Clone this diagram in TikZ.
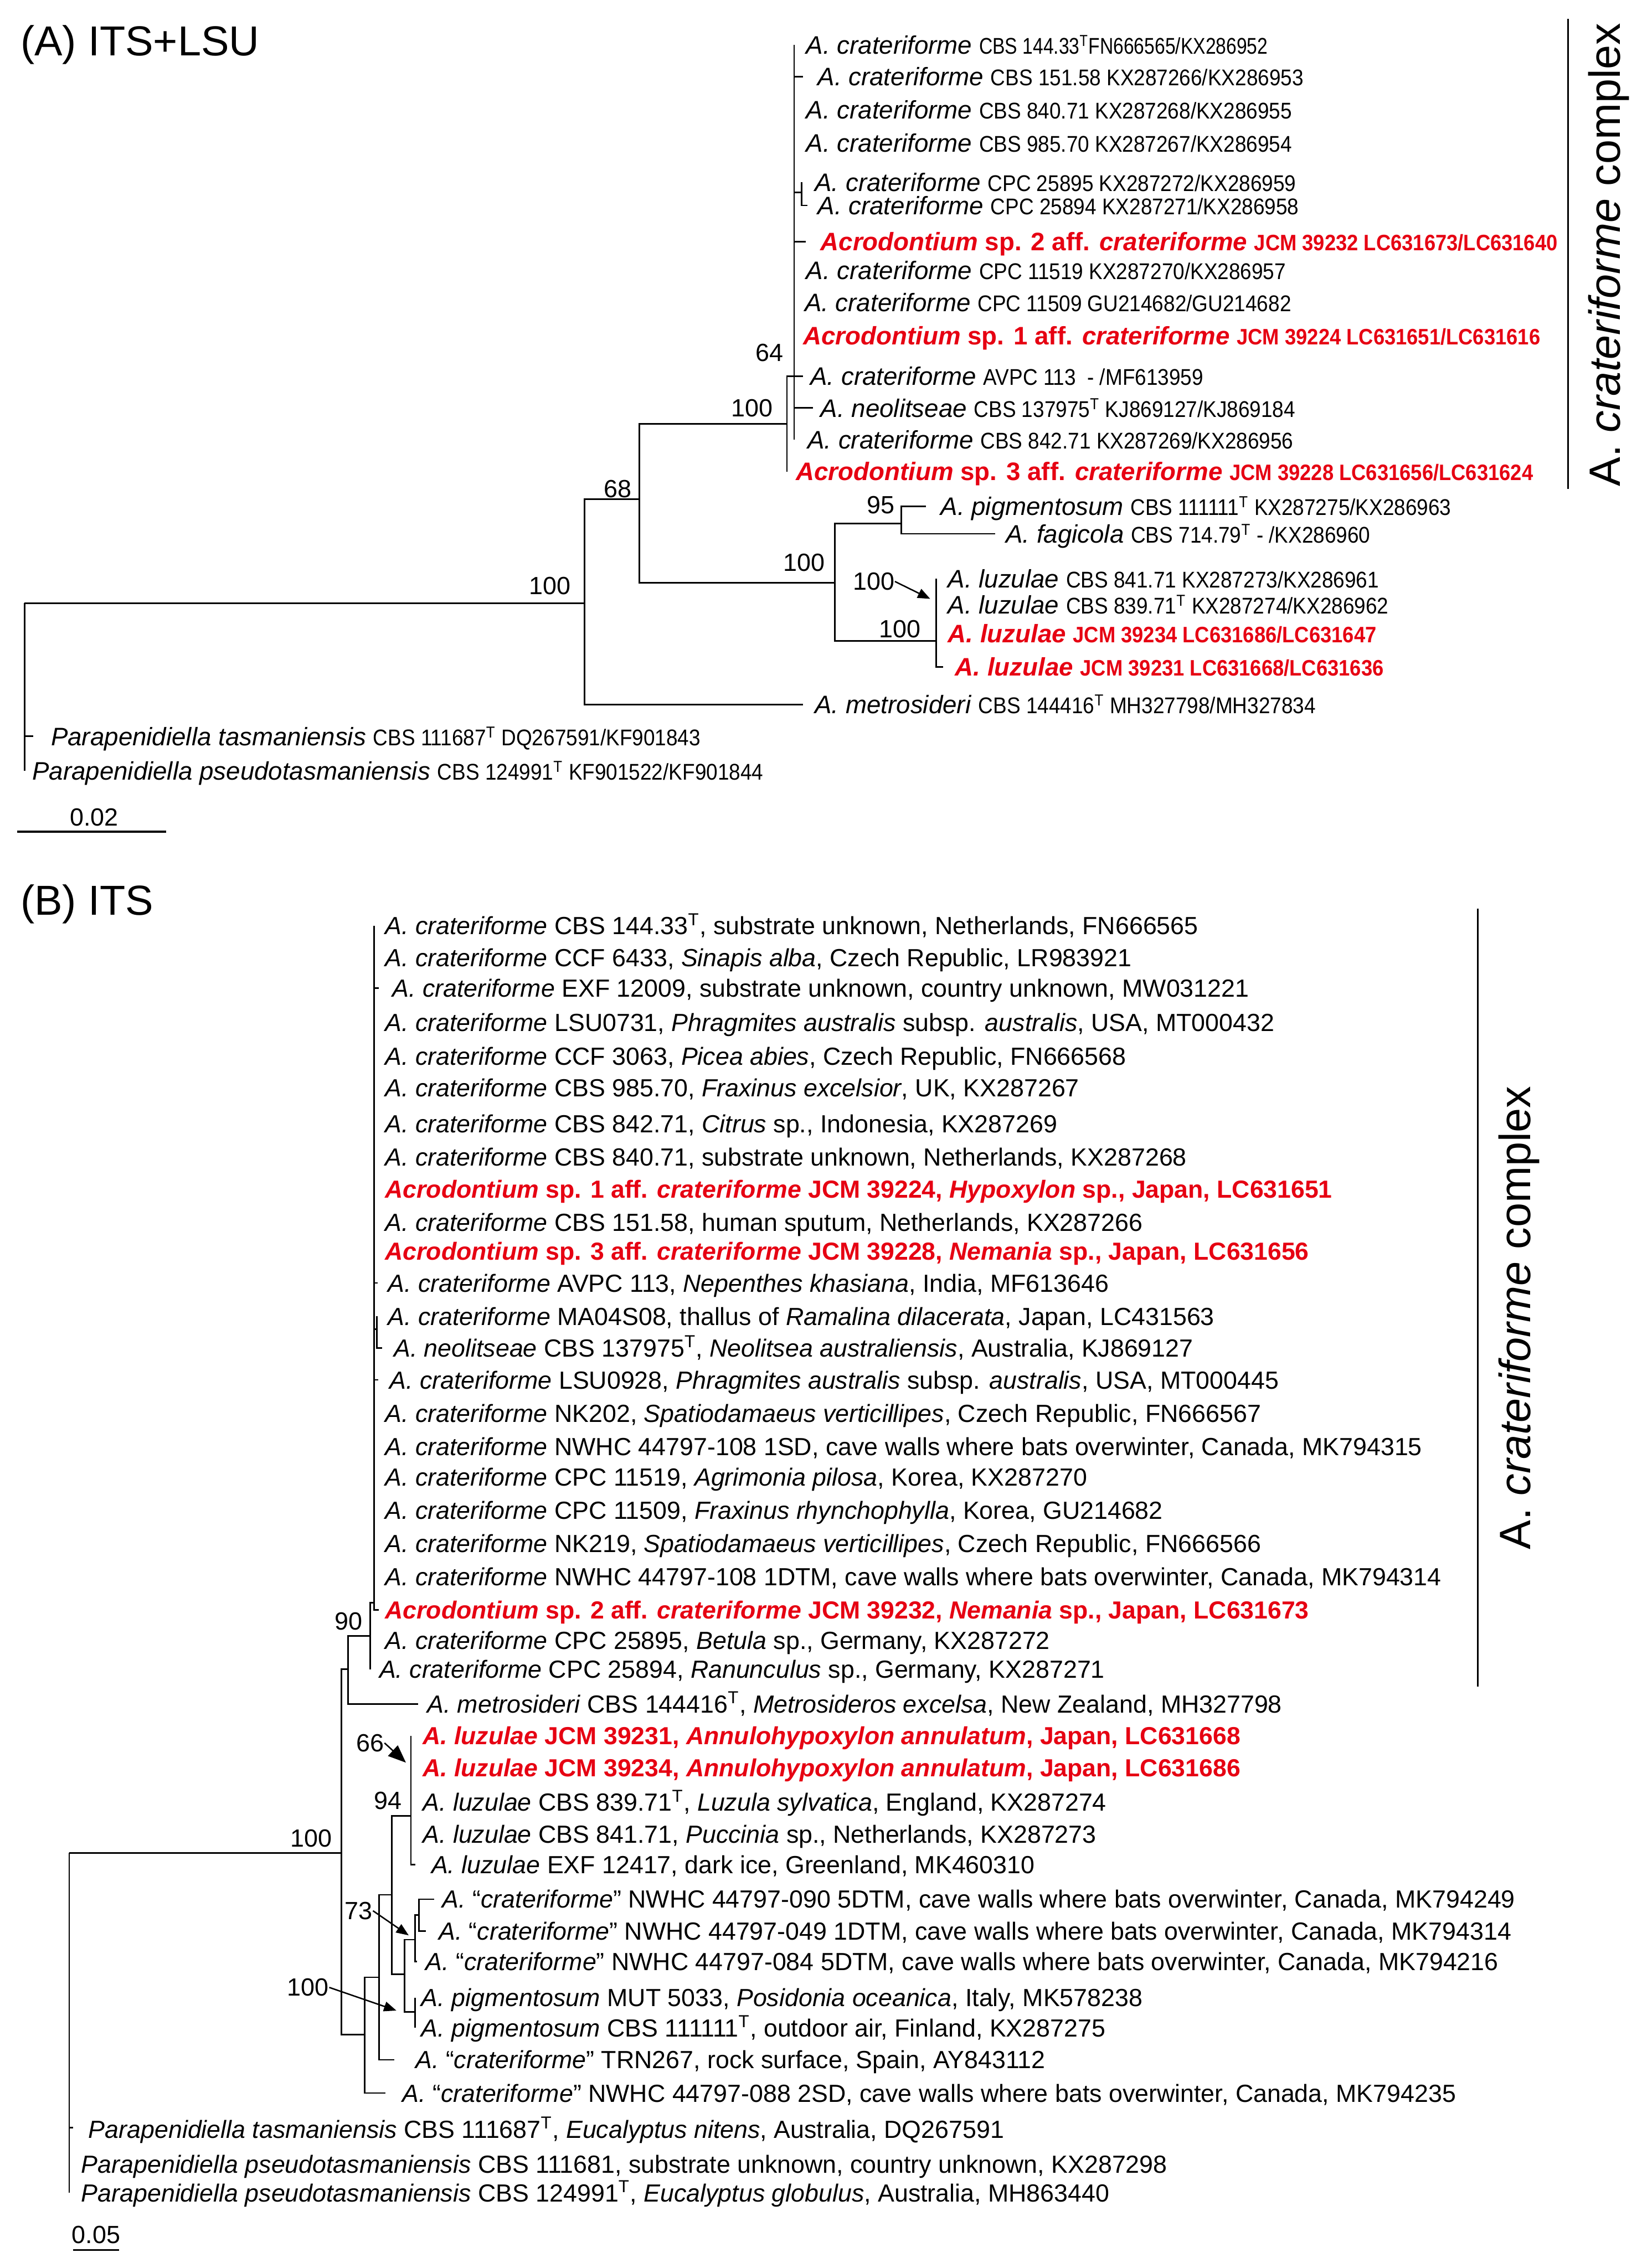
\documentclass[tikz,border=0pt]{standalone}
\usepackage{fontspec}
\setmainfont{Liberation Sans}
\newfontfamily\narrowsf{Liberation Sans}[FakeStretch=0.82]
\newfontfamily\semisf{Liberation Sans}[FakeStretch=0.9]
\usepackage{tikz}
\usetikzlibrary{arrows.meta}
\definecolor{isolatered}{RGB}{230, 0, 18}

\newcommand{\crat}{\textit{A. crateriforme}}
\newcommand{\qcrat}{\textit{A.} “\textit{crateriforme}”}
\newcommand{\strainAn}[1]{{\narrowsf\fontsize{12.8}{15}\selectfont #1}}
\newcommand{\strainA}[1]{{\semisf\fontsize{12.8}{15}\selectfont #1}}
\newcommand{\strainAb}[1]{{\semisf\bfseries\fontsize{12.6}{15}\selectfont #1}}
\newcommand{\typeT}{\textsuperscript{T}}

\begin{document}
\begin{tikzpicture}[
    x=0.02862cm, y=-0.02862cm,
    branch/.style={line width=0.85pt},
    tipA/.style={anchor=west, inner sep=0pt, text height=10.2pt, text depth=0pt,
                 font=\fontsize{14.25}{17}\selectfont},
    newA/.style={tipA, text=isolatered, font=\bfseries\fontsize{14.25}{17}\selectfont},
    tipB/.style={anchor=west, inner sep=0pt, text height=10pt, text depth=0pt,
                 font=\fontsize{13.95}{17}\selectfont},
    newB/.style={tipB, text=isolatered, font=\bfseries\fontsize{13.9}{17}\selectfont},
    boot/.style={inner sep=0pt, font=\fontsize{14}{17}\selectfont},
    pointer/.style={line width=0.8pt, -{Triangle[length=7pt, width=5.5pt]}},
    bigpointer/.style={line width=0.8pt, -{Triangle[length=10pt, width=8pt]}},
    panel/.style={anchor=west, inner sep=0pt, font=\fontsize{23.6}{28}\selectfont},
    clade/.style={rotate=90, inner sep=0pt, font=\fontsize{24.7}{28}\selectfont},
    cladebar/.style={line width=1.1pt},
    scalebar/.style={line width=1.1pt}
]
\useasboundingbox (0,0) rectangle (1135,1568);

%% ── (A) ITS+LSU ────────────────────────────────────────────────
\node[panel] (titleA) at (14,31) {(A) ITS+LSU};

%% internal nodes
\coordinate (aRoot)   at (17,  417);
\coordinate (aN100)   at (404, 417);
\coordinate (aN68)    at (442, 345);
\coordinate (aN100c)  at (544, 293);
\coordinate (aN64)    at (549, 260);
\coordinate (aCPC)    at (554, 133);
\coordinate (aN100l)  at (577, 403);
\coordinate (aN95)    at (623, 362);
\coordinate (aN100z)  at (647, 443);

%% tips
\coordinate (a1)  at (549, 31);  \node[tipA] (la1)  at (557, 31)  {\crat\ \strainAn{CBS 144.33\typeT FN666565/KX286952}};
\coordinate (a2)  at (555, 53);  \node[tipA] (la2)  at (565, 53)  {\crat\ \strainA{CBS 151.58 KX287266/KX286953}};
\coordinate (a3)  at (549, 76);  \node[tipA] (la3)  at (557, 76)  {\crat\ \strainA{CBS 840.71 KX287268/KX286955}};
\coordinate (a4)  at (549, 99);  \node[tipA] (la4)  at (557, 99)  {\crat\ \strainA{CBS 985.70 KX287267/KX286954}};
\coordinate (a5)  at (554, 126); \node[tipA] (la5)  at (563, 126) {\crat\ \strainA{CPC 25895 KX287272/KX286959}};
\coordinate (a6)  at (558, 142); \node[tipA] (la6)  at (565, 142) {\crat\ \strainA{CPC 25894 KX287271/KX286958}};
\coordinate (a7)  at (557, 167); \node[newA] (la7)  at (567, 167) {\textit{Acrodontium} sp. 2 aff. \textit{crateriforme} \strainAb{JCM 39232 LC631673/LC631640}};
\coordinate (a8)  at (549, 187); \node[tipA] (la8)  at (557, 187) {\crat\ \strainA{CPC 11519 KX287270/KX286957}};
\coordinate (a9)  at (549, 209); \node[tipA] (la9)  at (556, 209) {\crat\ \strainA{CPC 11509 GU214682/GU214682}};
\coordinate (a10) at (549, 232); \node[newA] (la10) at (555, 232) {\textit{Acrodontium} sp. 1 aff. \textit{crateriforme} \strainAb{JCM 39224 LC631651/LC631616}};
\coordinate (a11) at (555, 260); \node[tipA] (la11) at (560, 260) {\crat\ \strainA{AVPC 113 \ - /MF613959}};
\coordinate (a12) at (562, 282); \node[tipA] (la12) at (567, 282) {\textit{A. neolitseae} \strainA{CBS 137975\typeT\ KJ869127/KJ869184}};
\coordinate (a13) at (549, 304); \node[tipA] (la13) at (558, 304) {\crat\ \strainA{CBS 842.71 KX287269/KX286956}};
\coordinate (a14) at (544, 326); \node[newA] (la14) at (550, 326) {\textit{Acrodontium} sp. 3 aff. \textit{crateriforme} \strainAb{JCM 39228 LC631656/LC631624}};
\coordinate (a15) at (640, 350); \node[tipA] (la15) at (650, 350) {\textit{A. pigmentosum} \strainA{CBS 111111\typeT\ KX287275/KX286963}};
\coordinate (a16) at (688, 369); \node[tipA] (la16) at (695, 369) {\textit{A. fagicola} \strainA{CBS 714.79\typeT\ - /KX286960}};
\coordinate (a17) at (647, 400); \node[tipA] (la17) at (655, 400) {\textit{A. luzulae} \strainA{CBS 841.71 KX287273/KX286961}};
\coordinate (a18) at (647, 418); \node[tipA] (la18) at (655, 418) {\textit{A. luzulae} \strainA{CBS 839.71\typeT\ KX287274/KX286962}};
\coordinate (a19) at (647, 438); \node[newA] (la19) at (655, 438) {\textit{A. luzulae} \strainAb{JCM 39234 LC631686/LC631647}};
\coordinate (a20) at (652, 461); \node[newA] (la20) at (660, 461) {\textit{A. luzulae} \strainAb{JCM 39231 LC631668/LC631636}};
\coordinate (a21) at (555, 487); \node[tipA] (la21) at (563, 487) {\textit{A. metrosideri} \strainA{CBS 144416\typeT\ MH327798/MH327834}};
\coordinate (a22) at (23, 509);  \node[tipA] (la22) at (35, 509)  {\textit{Parapenidiella tasmaniensis} \strainA{CBS 111687\typeT\ DQ267591/KF901843}};
\coordinate (a23) at (17, 533);  \node[tipA] (la23) at (22, 533)  {\textit{Parapenidiella pseudotasmaniensis} \strainA{CBS 124991\typeT\ KF901522/KF901844}};

%% branches
\draw[branch] (aRoot) |- (aN100)  (aRoot) |- (a22)  (aRoot) |- (a23);
\draw[branch] (aN100) |- (aN68)   (aN100) |- (a21);
\draw[branch] (aN68) |- (aN100c)  (aN68) |- (aN100l);
\draw[branch] (aN100c) |- (aN64)  (aN100c) |- (a14);
\draw[branch] (aN64) |- (a1)  (aN64) |- (a2)  (aN64) |- (a3)  (aN64) |- (a4)
              (aN64) |- (aCPC)  (aN64) |- (a7)  (aN64) |- (a8)  (aN64) |- (a9)
              (aN64) |- (a10)  (aN64) |- (a11)  (aN64) |- (a12)  (aN64) |- (a13);
\draw[branch] (aCPC) |- (a5)  (aCPC) |- (a6);
\draw[branch] (aN100l) |- (aN95)  (aN100l) |- (aN100z);
\draw[branch] (aN95) |- (a15)  (aN95) |- (a16);
\draw[branch] (aN100z) |- (a17)  (aN100z) |- (a18)  (aN100z) |- (a19)  (aN100z) |- (a20);

%% support values
\node[boot] (sA64)   at (532, 244) {64};
\node[boot] (sA100c) at (520, 282) {100};
\node[boot] (sA68)   at (427, 338) {68};
\node[boot] (sA100)  at (380, 405) {100};
\node[boot] (sA95)   at (609, 349) {95};
\node[boot] (sA100l) at (556, 389) {100};
\node[boot] (sA100p) at (604, 402) {100};
\node[boot] (sA100z) at (622, 435) {100};
\coordinate (aPtr) at (643, 414);
\draw[pointer] (sA100p.east) -- (aPtr);

%% clade bar and scale
\coordinate (cbA1) at (1084, 13);
\coordinate (cbA2) at (1084, 338);
\draw[cladebar] (cbA1) -- (cbA2);
\node[clade] (cladeA) at (1112, 176) {A. \textit{crateriforme} complex};
\coordinate (sbA1) at (12, 575);
\coordinate (sbA2) at (115, 575);
\draw[scalebar] (sbA1) -- (sbA2);
\node[boot] (sbAlab) at (65, 565) {0.02};

%% ── (B) ITS ────────────────────────────────────────────────────
\node[panel] (titleB) at (14,625) {(B) ITS};

%% internal nodes
\coordinate (bRoot)  at (47.8,  1281);
\coordinate (bN100)  at (236.1, 1281);
\coordinate (bNa)    at (240.5, 1154);
\coordinate (bN90)   at (256,   1131);
\coordinate (bNcr)   at (258.5, 1108);
\coordinate (bNmn)   at (260.5, 919);
\coordinate (bNp)    at (252,   1406.5);
\coordinate (bNq)    at (262,   1367);
\coordinate (bNr)    at (270.9, 1310);
\coordinate (bN94)   at (284,   1255.5);
\coordinate (bNs)    at (279.6, 1365);
\coordinate (bN73)   at (286.8, 1341);
\coordinate (bNw)    at (289.7, 1324);
\coordinate (bNpig)  at (286.8, 1391);

%% tips
\coordinate (b1)  at (258.5, 640);  \node[tipB] (lb1)  at (266, 640)  {\crat\ CBS 144.33\typeT, substrate unknown, Netherlands, FN666565};
\coordinate (b2)  at (258.5, 662);  \node[tipB] (lb2)  at (266, 662)  {\crat\ CCF 6433, \textit{Sinapis alba}, Czech Republic, LR983921};
\coordinate (b3)  at (262, 683);    \node[tipB] (lb3)  at (271, 683)  {\crat\ EXF 12009, substrate unknown, country unknown, MW031221};
\coordinate (b4)  at (258.5, 707);  \node[tipB] (lb4)  at (266, 707)  {\crat\ LSU0731, \textit{Phragmites australis} subsp. \textit{australis}, USA, MT000432};
\coordinate (b5)  at (258.5, 730);  \node[tipB] (lb5)  at (266, 730)  {\crat\ CCF 3063, \textit{Picea abies}, Czech Republic, FN666568};
\coordinate (b6)  at (258.5, 752);  \node[tipB] (lb6)  at (266, 752)  {\crat\ CBS 985.70, \textit{Fraxinus excelsior}, UK, KX287267};
\coordinate (b7)  at (258.5, 777);  \node[tipB] (lb7)  at (266, 777)  {\crat\ CBS 842.71, \textit{Citrus} sp., Indonesia, KX287269};
\coordinate (b8)  at (258.5, 800);  \node[tipB] (lb8)  at (266, 800)  {\crat\ CBS 840.71, substrate unknown, Netherlands, KX287268};
\coordinate (b9)  at (258.5, 822);  \node[newB] (lb9)  at (266, 822)  {\textit{Acrodontium} sp. 1 aff. \textit{crateriforme} JCM 39224, \textit{Hypoxylon} sp., Japan, LC631651};
\coordinate (b10) at (258.5, 845);  \node[tipB] (lb10) at (266, 845)  {\crat\ CBS 151.58, human sputum, Netherlands, KX287266};
\coordinate (b11) at (258.5, 865);  \node[newB] (lb11) at (266, 865)  {\textit{Acrodontium} sp. 3 aff. \textit{crateriforme} JCM 39228, \textit{Nemania} sp., Japan, LC631656};
\coordinate (b12) at (261, 887);    \node[tipB] (lb12) at (268, 887)  {\crat\ AVPC 113, \textit{Nepenthes khasiana}, India, MF613646};
\coordinate (b13) at (260.5, 910);  \node[tipB] (lb13) at (268, 910)  {\crat\ MA04S08, thallus of \textit{Ramalina dilacerata}, Japan, LC431563};
\coordinate (b14) at (264, 932);    \node[tipB] (lb14) at (272, 932)  {\textit{A. neolitseae} CBS 137975\typeT, \textit{Neolitsea australiensis}, Australia, KJ869127};
\coordinate (b15) at (261.5, 954);  \node[tipB] (lb15) at (269, 954)  {\crat\ LSU0928, \textit{Phragmites australis} subsp. \textit{australis}, USA, MT000445};
\coordinate (b16) at (258.5, 977);  \node[tipB] (lb16) at (266, 977)  {\crat\ NK202, \textit{Spatiodamaeus verticillipes}, Czech Republic, FN666567};
\coordinate (b17) at (258.5, 1000); \node[tipB] (lb17) at (266, 1000) {\crat\ NWHC 44797-108 1SD, cave walls where bats overwinter, Canada, MK794315};
\coordinate (b18) at (258.5, 1021); \node[tipB] (lb18) at (266, 1021) {\crat\ CPC 11519, \textit{Agrimonia pilosa}, Korea, KX287270};
\coordinate (b19) at (258.5, 1044); \node[tipB] (lb19) at (266, 1044) {\crat\ CPC 11509, \textit{Fraxinus rhynchophylla}, Korea, GU214682};
\coordinate (b20) at (258.5, 1067); \node[tipB] (lb20) at (266, 1067) {\crat\ NK219, \textit{Spatiodamaeus verticillipes}, Czech Republic, FN666566};
\coordinate (b21) at (258.5, 1090); \node[tipB] (lb21) at (266, 1090) {\crat\ NWHC 44797-108 1DTM, cave walls where bats overwinter, Canada, MK794314};
\coordinate (b22) at (262, 1113);   \node[newB] (lb22) at (266, 1113) {\textit{Acrodontium} sp. 2 aff. \textit{crateriforme} JCM 39232, \textit{Nemania} sp., Japan, LC631673};
\coordinate (b23) at (256, 1134);   \node[tipB] (lb23) at (266, 1134) {\crat\ CPC 25895, \textit{Betula} sp., Germany, KX287272};
\coordinate (b24) at (256, 1154);   \node[tipB] (lb24) at (262, 1154) {\crat\ CPC 25894, \textit{Ranunculus} sp., Germany, KX287271};
\coordinate (b25) at (289, 1178);   \node[tipB] (lb25) at (295, 1178) {\textit{A. metrosideri} CBS 144416\typeT, \textit{Metrosideros excelsa}, New Zealand, MH327798};
\coordinate (b26) at (284, 1200);   \node[newB] (lb26) at (292, 1200) {\textit{A. luzulae} JCM 39231, \textit{Annulohypoxylon annulatum}, Japan, LC631668};
\coordinate (b27) at (284, 1222);   \node[newB] (lb27) at (292, 1222) {\textit{A. luzulae} JCM 39234, \textit{Annulohypoxylon annulatum}, Japan, LC631686};
\coordinate (b28) at (284, 1246);   \node[tipB] (lb28) at (292, 1246) {\textit{A. luzulae} CBS 839.71\typeT, \textit{Luzula sylvatica}, England, KX287274};
\coordinate (b29) at (284, 1268);   \node[tipB] (lb29) at (292, 1268) {\textit{A. luzulae} CBS 841.71, \textit{Puccinia} sp., Netherlands, KX287273};
\coordinate (b30) at (287, 1289);   \node[tipB] (lb30) at (298, 1289) {\textit{A. luzulae} EXF 12417, dark ice, Greenland, MK460310};
\coordinate (b31) at (300, 1313);   \node[tipB] (lb31) at (305.6, 1313) {\qcrat\ NWHC 44797-090 5DTM, cave walls where bats overwinter, Canada, MK794249};
\coordinate (b32) at (294.5, 1335); \node[tipB] (lb32) at (303, 1335) {\qcrat\ NWHC 44797-049 1DTM, cave walls where bats overwinter, Canada, MK794314};
\coordinate (b33) at (288.2, 1356); \node[tipB] (lb33) at (294, 1356) {\qcrat\ NWHC 44797-084 5DTM, cave walls where bats overwinter, Canada, MK794216};
\coordinate (b34) at (286.8, 1381); \node[tipB] (lb34) at (291, 1381) {\textit{A. pigmentosum} MUT 5033, \textit{Posidonia oceanica}, Italy, MK578238};
\coordinate (b35) at (286.8, 1402); \node[tipB] (lb35) at (291, 1402) {\textit{A. pigmentosum} CBS 111111\typeT, outdoor air, Finland, KX287275};
\coordinate (b36) at (272.4, 1424); \node[tipB] (lb36) at (287, 1424) {\qcrat\ TRN267, rock surface, Spain, AY843112};
\coordinate (b37) at (266.6, 1447); \node[tipB] (lb37) at (278, 1447) {\qcrat\ NWHC 44797-088 2SD, cave walls where bats overwinter, Canada, MK794235};
\coordinate (b38) at (50.5, 1471);  \node[tipB] (lb38) at (61, 1472)  {\textit{Parapenidiella tasmaniensis} CBS 111687\typeT, \textit{Eucalyptus nitens}, Australia, DQ267591};
\coordinate (b39) at (47.8, 1496);  \node[tipB] (lb39) at (56, 1496)  {\textit{Parapenidiella pseudotasmaniensis} CBS 111681, substrate unknown, country unknown, KX287298};
\coordinate (b40) at (47.8, 1516);  \node[tipB] (lb40) at (56, 1516)  {\textit{Parapenidiella pseudotasmaniensis} CBS 124991\typeT, \textit{Eucalyptus globulus}, Australia, MH863440};

%% branches
\draw[branch] (bRoot) |- (bN100)  (bRoot) |- (b38)  (bRoot) |- (b39)  (bRoot) |- (b40);
\draw[branch] (bN100) |- (bNa)  (bN100) |- (bNp);
\draw[branch] (bNa) |- (bN90)  (bNa) |- (b25);
\draw[branch] (bN90) |- (bNcr)  (bN90) |- (b23)  (bN90) |- (b24);
\draw[branch] (bNcr) |- (b1)  (bNcr) |- (b2)  (bNcr) |- (b3)  (bNcr) |- (b4)
              (bNcr) |- (b5)  (bNcr) |- (b6)  (bNcr) |- (b7)  (bNcr) |- (b8)
              (bNcr) |- (b9)  (bNcr) |- (b10) (bNcr) |- (b11) (bNcr) |- (b12)
              (bNcr) |- (bNmn) (bNcr) |- (b15) (bNcr) |- (b16) (bNcr) |- (b17)
              (bNcr) |- (b18) (bNcr) |- (b19) (bNcr) |- (b20) (bNcr) |- (b21)
              (bNcr) |- (b22);
\draw[branch] (bNmn) |- (b13)  (bNmn) |- (b14);
\draw[branch] (bNp) |- (bNq)  (bNp) |- (b37);
\draw[branch] (bNq) |- (bNr)  (bNq) |- (b36);
\draw[branch] (bNr) |- (bN94)  (bNr) |- (bNs);
\draw[branch] (bN94) |- (b26)  (bN94) |- (b27)  (bN94) |- (b28)  (bN94) |- (b29)  (bN94) |- (b30);
\draw[branch] (bNs) |- (bN73)  (bNs) |- (bNpig);
\draw[branch] (bN73) |- (bNw)  (bN73) |- (b33);
\draw[branch] (bNw) |- (b31)  (bNw) |- (b32);
\draw[branch] (bNpig) |- (b34)  (bNpig) |- (b35);

%% support values
\node[boot] (sB90)   at (241, 1121) {90};
\node[boot] (sB100)  at (215, 1271) {100};
\node[boot] (sB94)   at (268, 1245) {94};
\node[boot] (sB66)   at (256, 1205) {66};
\node[boot] (sB73)   at (248, 1321) {73};
\node[boot] (sB100p) at (213, 1374) {100};
\coordinate (bPtr66)  at (280.6, 1218.6);
\coordinate (bPtr73)  at (282.5, 1338);
\coordinate (bPtr100) at (274, 1390);
\draw[bigpointer] (sB66.east) -- (bPtr66);
\draw[pointer] (sB73.east) -- (bPtr73);
\draw[pointer] (sB100p.east) -- (bPtr100);

%% clade bar and scale
\coordinate (cbB1) at (1021.6, 628);
\coordinate (cbB2) at (1021.6, 1166);
\draw[cladebar] (cbB1) -- (cbB2);
\node[clade] (cladeB) at (1050, 911) {A. \textit{crateriforme} complex};
\coordinate (sbB1) at (50.5, 1555.5);
\coordinate (sbB2) at (82.2, 1555.5);
\draw[scalebar] (sbB1) -- (sbB2);
\node[boot] (sbBlab) at (66.4, 1545) {0.05};

\end{tikzpicture}
\end{document}
